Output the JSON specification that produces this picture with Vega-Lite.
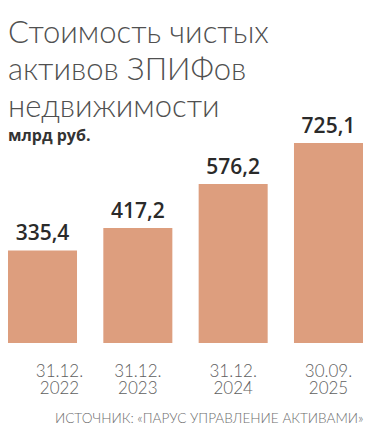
{
  "$schema": "https://vega.github.io/schema/vega-lite/v6.json",
  "autosize": "none",
  "width": 355,
  "height": 200,
  "padding": {"left": 8, "top": 143, "right": 14, "bottom": 89},
  "background": "white",
  "config": {
    "view": {"stroke": null},
    "locale": {"number": {"decimal": ",", "thousands": " ", "grouping": [3], "currency": ["", ""]}}
  },
  "title": {
    "text": ["Стоимость чистых", "активов ЗПИФов", "недвижимости"],
    "subtitle": "млрд руб.",
    "anchor": "start",
    "frame": "group",
    "offset": -29,
    "font": "Lato",
    "fontSize": 31,
    "fontWeight": 300,
    "color": "#505050",
    "lineHeight": 37,
    "subtitleFont": "Open Sans",
    "subtitleFontSize": 16,
    "subtitleFontWeight": 700,
    "subtitleColor": "#333333",
    "subtitlePadding": 4
  },
  "data": {
    "values": [
      {"date": "31.12. 2022", "value": 335.4},
      {"date": "31.12. 2023", "value": 417.2},
      {"date": "31.12. 2024", "value": 576.2},
      {"date": "30.09. 2025", "value": 725.1}
    ]
  },
  "encoding": {
    "x": {
      "field": "date",
      "type": "nominal",
      "sort": null,
      "scale": {"paddingInner": 0.276, "paddingOuter": 0},
      "axis": {
        "title": "ИСТОЧНИК: «ПАРУС УПРАВЛЕНИЕ АКТИВАМИ»",
        "titleAnchor": "end",
        "titleFont": "Lato",
        "titleFontWeight": 300,
        "titleFontSize": 13.6,
        "titleColor": "#6e6e6e",
        "titlePadding": 15,
        "labelExpr": "split(datum.label, ' ')",
        "labelAngle": 0,
        "labelFont": "Lato",
        "labelFontWeight": 300,
        "labelFontSize": 17,
        "labelLineHeight": 17,
        "labelColor": "#606060",
        "labelPadding": 20,
        "labelOffset": {"condition": {"test": "datum.value === '31.12. 2022'", "value": 17}, "value": 0},
        "ticks": false,
        "tickSize": 0,
        "domain": false,
        "grid": false
      }
    },
    "y": {
      "field": "value",
      "type": "quantitative",
      "scale": {"domain": [0, 725.1]},
      "axis": null
    }
  },
  "layer": [
    {"mark": {"type": "bar", "color": "#dd9e7e"}},
    {
      "mark": {"type": "text", "dy": -10, "baseline": "alphabetic", "font": "Open Sans", "fontSize": 21, "fontWeight": 600, "color": "#2a2a2a", "clip": false},
      "encoding": {"text": {"field": "value", "type": "quantitative", "format": ".1f"}}
    }
  ]
}
